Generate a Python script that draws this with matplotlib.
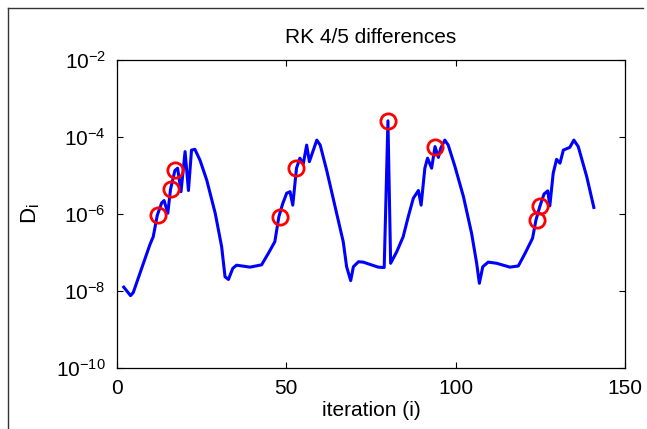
import matplotlib
matplotlib.use('Agg')
import matplotlib.pyplot as plt
from matplotlib.lines import Line2D
import numpy as np

plt.rcParams['font.family'] = ['Liberation Sans', 'DejaVu Sans']
plt.rcParams['mathtext.fontset'] = 'custom'
plt.rcParams['mathtext.rm'] = 'Liberation Sans'

# iteration number and log10 of the difference
iters = [2, 4, 4.8, 9.7, 10.7, 11.9, 13.2, 13.9, 15, 15.8, 17.1, 17.9, 18.9, 20.1,
         21.1, 22, 23, 24.5, 26.5, 29, 30.9, 31.9, 32.9, 34.2, 35.3, 39.3, 42.7,
         44.7, 46.6, 47.8, 48.9, 50.1, 51.1, 51.9, 53, 54, 55, 56, 56.8, 59, 60,
         61.9, 64.4, 66.8, 67.8, 69, 69.8, 71.3, 72.7, 77.1, 78.9, 80, 80.8, 82.6,
         84.5, 86, 87.5, 89, 89.8, 90.9, 91.7, 92.9, 93.9, 94.9, 95.6, 96.8, 97.8,
         99.8, 102.3, 104.7, 106.2, 107, 108, 109.6, 112.1, 116, 118.5, 120.5,
         122.7, 123.7, 124.9, 126.1, 127.2, 127.8, 128.8, 129.8, 130.8, 131.8,
         133.7, 134.9, 136.2, 138.7, 140.8]
logD = [-7.90, -8.12, -8.04, -6.80, -6.59, -6.03, -5.71, -5.65, -5.98, -5.36,
        -4.87, -4.81, -5.42, -4.38, -5.39, -4.34, -4.32, -4.60, -5.12, -5.98,
        -6.85, -7.63, -7.70, -7.41, -7.33, -7.38, -7.32, -7.02, -6.72, -6.07,
        -5.74, -5.46, -5.42, -5.77, -4.81, -4.55, -4.70, -4.21, -4.64, -4.08,
        -4.21, -4.86, -5.81, -6.72, -7.37, -7.73, -7.37, -7.24, -7.25, -7.38,
        -7.39, -3.58, -7.28, -6.98, -6.59, -6.07, -5.59, -5.39, -5.77, -4.81,
        -4.55, -4.81, -4.25, -4.53, -4.29, -4.08, -4.21, -4.77, -5.55, -6.50,
        -7.28, -7.80, -7.37, -7.25, -7.28, -7.38, -7.35, -7.02, -6.63, -6.16,
        -5.79, -5.48, -5.40, -5.79, -4.94, -4.58, -4.68, -4.34, -4.27, -4.08,
        -4.25, -5.03, -5.83]

# highlighted iterations
mark_iters = [12, 16, 17, 48, 53, 80, 94, 124, 125]
mark_logD = [-6.03, -5.36, -4.87, -6.07, -4.81, -3.58, -4.25, -6.16, -5.79]

D = 10.0 ** np.array(logD)
markD = 10.0 ** np.array(mark_logD)

fig = plt.figure(figsize=(6.47, 4.29), dpi=100)
ax = fig.add_axes([117 / 647, 1 - 368 / 429, 508 / 647, 308 / 429])

ax.semilogy(iters, D, color='#0000ff', lw=2.2)
ax.plot(mark_iters, markD, 'o', mfc='none', mec='#ff0000', mew=2, ms=11)

ax.set_xlim(0, 150)
ax.set_ylim(1e-10, 1e-2)
ax.set_xticks([0, 50, 100, 150])
ax.set_yticks([1e-10, 1e-8, 1e-6, 1e-4, 1e-2])
ax.yaxis.set_minor_locator(matplotlib.ticker.NullLocator())
ax.tick_params(direction='in', length=4, width=0.8, top=True, right=True,
               labelsize=15, pad=8)
for s in ax.spines.values():
    s.set_linewidth(0.9)

ax.set_title('RK 4/5 differences', fontsize=15, pad=12)
ax.set_xlabel('iteration (i)', fontsize=15, labelpad=2)
ax.set_ylabel(r'$\mathregular{D_i}$', fontsize=16, labelpad=10)

# outer frame of the original figure
fig.add_artist(Line2D([8 / 647, 8 / 647], [0, 1 - 8 / 429], color='#333333', lw=1))
fig.add_artist(Line2D([8 / 647, 643 / 647], [1 - 8 / 429, 1 - 8 / 429], color='#333333', lw=1))

fig.savefig('out.png', dpi=100)
